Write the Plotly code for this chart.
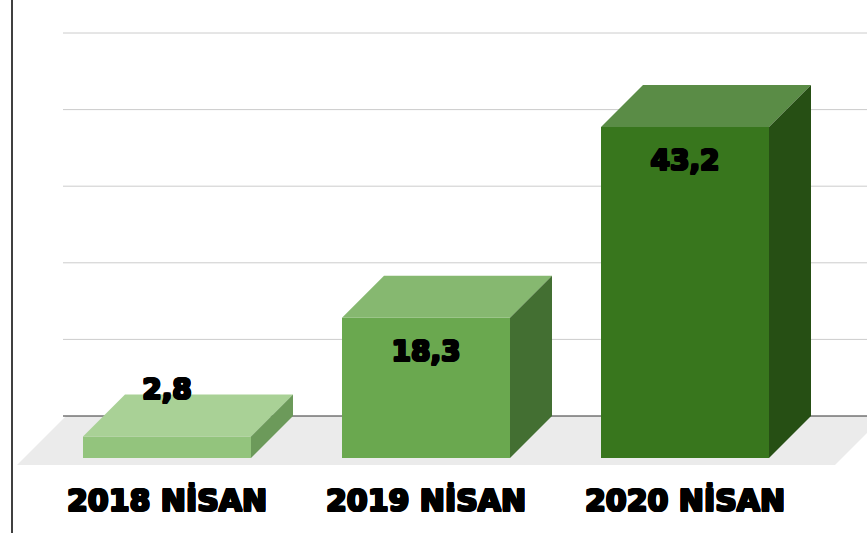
import plotly.graph_objects as go

categories = ["2018 NİSAN", "2019 NİSAN", "2020 NİSAN"]
values = [2.8, 18.3, 43.2]
value_labels = ["2,8", "18,3", "43,2"]
grid_values = [10, 20, 30, 40, 50]

front_colors = ["#93c47d", "#6aa84f", "#38761d"]
top_colors = ["#a9d196", "#86b870", "#5a8c46"]
side_colors = ["#6c9a5a", "#436f32", "#264f14"]

W, H = 867, 533
PX_PER_UNIT = 7.66
PX_PER_CAT = 259.0
X0_PX, BASE_PX, BOTTOM_PX = 167.0, 416.0, 465.0
xv = lambda px: (px - X0_PX) / PX_PER_CAT
yv = lambda px: (BASE_PX - px) / PX_PER_UNIT

DX = 42 / PX_PER_CAT      # depth of a bar along x
DY = 42 / PX_PER_UNIT     # depth of a bar along y
BAR_W = 168 / PX_PER_CAT
FLOOR_DEPTH = 49
HEAVY = "1px 0 0 #000, -1px 0 0 #000, 0 1px 0 #000, 0 -1px 0 #000, 1px 1px 0 #000, -1px -1px 0 #000, 1px -1px 0 #000, -1px 1px 0 #000"

fig = go.Figure()
xs = list(range(len(categories)))

fig.add_trace(go.Bar(x=xs, y=values, base=-DY, width=BAR_W,
                     marker=dict(color=front_colors, line=dict(width=0))))

for i, v in zip(xs, values):
    l, r = i - BAR_W / 2, i + BAR_W / 2
    ft = v - DY
    fig.add_trace(go.Scatter(x=[l, r, r + DX, l + DX, l], y=[ft, ft, v, v, ft],
                             mode="lines", fill="toself", fillcolor=top_colors[i],
                             line=dict(width=0)))
    fig.add_trace(go.Scatter(x=[r, r + DX, r + DX, r, r], y=[ft, v, 0, -DY, ft],
                             mode="lines", fill="toself", fillcolor=side_colors[i],
                             line=dict(width=0)))

# label sits just under the front top edge, or above the bar when it is too short
label_y = [v - DY - 4.66 if v > 10 else v + 0.3 for v in values]
fig.add_trace(go.Scatter(x=xs, y=label_y, mode="text", text=value_labels,
                         textposition="middle center",
                         textfont=dict(family="DejaVu Sans", size=28, color="#000000",
                                       weight="bold", shadow=HEAVY)))

shapes = [dict(type="path", layer="below", line=dict(width=0), fillcolor="#ebebeb",
               path=f"M {xv(17)} {yv(BOTTOM_PX)} L {xv(17 + FLOOR_DEPTH)} 0 "
                    f"L {xv(835 + FLOOR_DEPTH)} 0 L {xv(835)} {yv(BOTTOM_PX)} Z")]
for g in grid_values:
    shapes.append(dict(type="line", layer="below", x0=xv(63), x1=xv(W), y0=g, y1=g,
                       line=dict(color="#cccccc", width=1)))
shapes.append(dict(type="line", layer="below", x0=xv(63), x1=xv(W), y0=0, y1=0,
                   line=dict(color="#333333", width=1.2)))
shapes.append(dict(type="line", xref="paper", yref="paper", x0=12 / W, x1=12 / W,
                   y0=-1, y1=1, line=dict(color="#000000", width=1.5)))

fig.update_layout(
    width=W, height=H, autosize=False,
    margin=dict(l=0, r=0, t=0, b=H - BOTTOM_PX, pad=0),
    paper_bgcolor="white", plot_bgcolor="white",
    showlegend=False, hovermode=False, shapes=shapes,
    xaxis=dict(range=[xv(0), xv(W)], tickmode="array", tickvals=xs, ticktext=categories,
               showgrid=False, zeroline=False, showline=False,
               ticks="outside", ticklen=9, tickcolor="rgba(0,0,0,0)",
               tickfont=dict(family="DejaVu Sans", size=30, color="#000000",
                             weight="bold", shadow=HEAVY)),
    yaxis=dict(range=[yv(BOTTOM_PX), yv(0)], showticklabels=False, showgrid=False,
               zeroline=False, showline=False),
)
fig.write_html("out.html", post_script="document.body.style.margin='0';",
               config={"displayModeBar": False})
